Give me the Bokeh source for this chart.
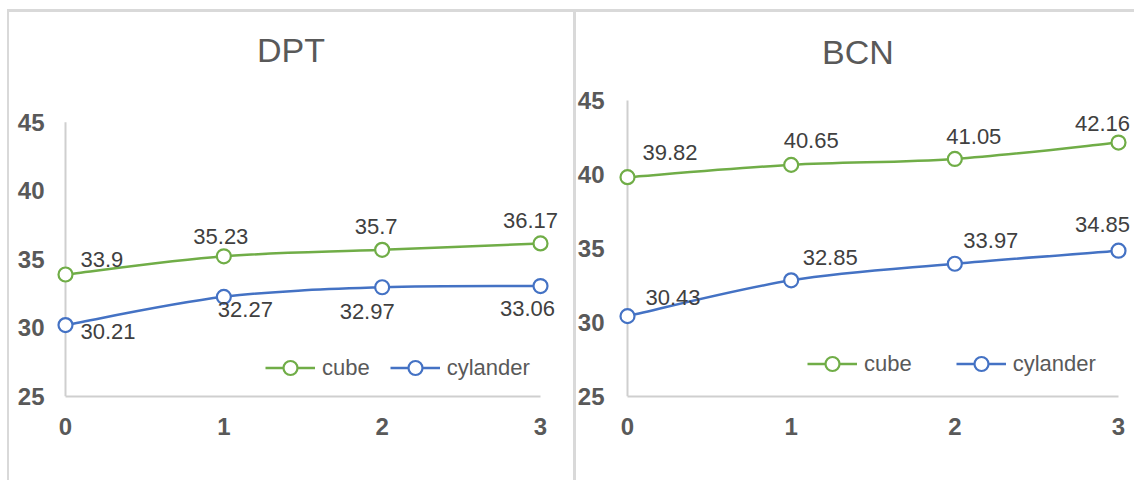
from bokeh.plotting import figure
from bokeh.models import Range1d, FixedTicker, Label, Legend, LegendItem
from bokeh.layouts import row
from bokeh.embed import file_html
from bokeh.resources import INLINE

# ---- data ----
x_vals = [0, 1, 2, 3]
dpt_cube = [33.9, 35.23, 35.7, 36.17]
dpt_cyl = [30.21, 32.27, 32.97, 33.06]
bcn_cube = [39.82, 40.65, 41.05, 42.16]
bcn_cyl = [30.43, 32.85, 33.97, 34.85]
y_ticks = [25, 30, 35, 40, 45]
x_ticks = [0, 1, 2, 3]
series_names = ["cube", "cylander"]
titles = ["DPT", "BCN"]

GREEN = "#70AD47"
BLUE = "#4472C4"
TXT = "#595959"
LBL = "#404040"
AX = "#CFCFCF"
FONT = "Liberation Sans"
PAD_LEFT = 12  # frame extends this many px left of the value axis


def smooth_segments(xs, ys):
    # Catmull-Rom -> cubic bezier control points (rendering of a smoothed line)
    n = len(xs)
    px = [xs[0]] + list(xs) + [xs[-1]]
    py = [ys[0]] + list(ys) + [ys[-1]]
    d = dict(x0=[], y0=[], x1=[], y1=[], cx0=[], cy0=[], cx1=[], cy1=[])
    for i in range(n - 1):
        j = i + 1
        d["x0"].append(px[j]); d["y0"].append(py[j])
        d["x1"].append(px[j + 1]); d["y1"].append(py[j + 1])
        d["cx0"].append(px[j] + (px[j + 1] - px[j - 1]) / 6.0)
        d["cy0"].append(py[j] + (py[j + 1] - py[j - 1]) / 6.0)
        d["cx1"].append(px[j + 1] - (px[j + 2] - px[j]) / 6.0)
        d["cy1"].append(py[j + 1] - (py[j + 2] - py[j]) / 6.0)
    return d


def make_panel(title, cube, cyl, width, height, px0, px3, py45, py25,
               frame_top, frame_right, title_off, cube_offs, cyl_offs,
               legend_loc, legend_spacing, y_standoff, shadow):
    # pixel geometry -> ranges so that the frame also holds the labels/title
    ux = (px3 - px0) / (x_ticks[-1] - x_ticks[0])
    uy = (py25 - py45) / (y_ticks[-1] - y_ticks[0])
    x_min = x_ticks[0] - PAD_LEFT / ux
    x_max = x_ticks[-1] + (frame_right - px3) / ux
    y_max = y_ticks[-1] + (py45 - frame_top) / uy
    p = figure(width=width, height=height, output_backend="svg",
               toolbar_location=None,
               min_border_left=px0 - PAD_LEFT, min_border_right=width - frame_right,
               min_border_top=frame_top, min_border_bottom=height - py25,
               x_range=Range1d(x_min, x_max),
               y_range=Range1d(y_ticks[0], y_max),
               styles={"box-shadow": shadow})
    p.border_fill_color = None
    p.background_fill_color = None
    p.outline_line_color = None
    p.xgrid.grid_line_color = None
    p.ygrid.grid_line_color = None

    for ax, ticks in ((p.xaxis[0], x_ticks), (p.yaxis[0], y_ticks)):
        ax.ticker = FixedTicker(ticks=ticks)
        ax.major_tick_line_color = None
        ax.minor_tick_line_color = None
        ax.axis_line_color = AX
        ax.axis_line_width = 2
        ax.major_label_text_font = FONT
        ax.major_label_text_font_size = "24px"
        ax.major_label_text_font_style = "bold"
        ax.major_label_text_color = TXT
    p.xaxis[0].bounds = (x_ticks[0], x_ticks[-1])
    p.xaxis[0].major_label_standoff = 15
    p.yaxis[0].axis_line_color = None
    p.yaxis[0].major_label_standoff = y_standoff
    # value axis line at category 0
    p.segment(x0=[x_ticks[0]], y0=[y_ticks[0]], x1=[x_ticks[0]], y1=[y_ticks[-1]],
              line_color=AX, line_width=2)

    items = []
    for name, vals, color, offs in ((series_names[0], cube, GREEN, cube_offs),
                                    (series_names[1], cyl, BLUE, cyl_offs)):
        seg = smooth_segments(x_vals, vals)
        br = p.bezier(x0="x0", y0="y0", x1="x1", y1="y1", cx0="cx0", cy0="cy0",
                      cx1="cx1", cy1="cy1", source=seg, line_color=color,
                      line_width=2.5)
        sr = p.scatter(x_vals, vals, marker="circle", size=14, fill_color="white",
                       line_color=color, line_width=2.2)
        items.append(LegendItem(label=name, renderers=[br, sr], index=0))
        for xv, yv, (dx, dy, al) in zip(x_vals, vals, offs):
            p.add_layout(Label(x=xv, y=yv, text=f"{yv:g}", x_offset=dx, y_offset=dy,
                               text_align=al, text_baseline="middle",
                               text_font=FONT, text_font_size="22px",
                               text_color=LBL))

    leg = Legend(items=items, orientation="horizontal", location=legend_loc,
                 glyph_width=50, glyph_height=35, label_standoff=7,
                 spacing=legend_spacing, padding=0, margin=0,
                 border_line_color=None, background_fill_alpha=0,
                 label_text_font=FONT, label_text_font_size="22px",
                 label_text_color=TXT)
    p.add_layout(leg, "center")

    p.add_layout(Label(x=1.5, y=45, text=title, x_offset=title_off[0],
                       y_offset=title_off[1], text_align="center",
                       text_baseline="middle", text_font=FONT,
                       text_font_size="34px", text_color=TXT))
    return p


left = make_panel(
    titles[0], dpt_cube, dpt_cyl, 573, 480, 65, 540, 123, 400, 14, 571,
    (-12, 72),
    [(15, 15, "left"), (-3, 20, "center"), (-6, 23, "center"), (-10, 23, "center")],
    [(15, -6, "left"), (-6, -13, "left"), (-15, -24, "center"), (-13, -22, "center")],
    (200 + PAD_LEFT, 11), 20, 3,
    "inset 7px 9px 0 white, inset 9px 12px 0 #d9d9d9")

right = make_panel(
    titles[1], bcn_cube, bcn_cyl, 561, 480, 54, 545, 100, 396, 14, 561,
    (-15, 49),
    [(15, 25, "left"), (20, 24, "center"), (19, 22, "center"), (-16, 19, "center")],
    [(18, 19, "left"), (39, 23, "center"), (36, 23, "center"), (-16, 26, "center")],
    (180 + PAD_LEFT, 15), 44, 5,
    "inset 0 9px 0 white, inset 3px 12px 0 #d9d9d9")

layout = row(left, right)
open("out.html", "w").write(file_html(layout, INLINE))
